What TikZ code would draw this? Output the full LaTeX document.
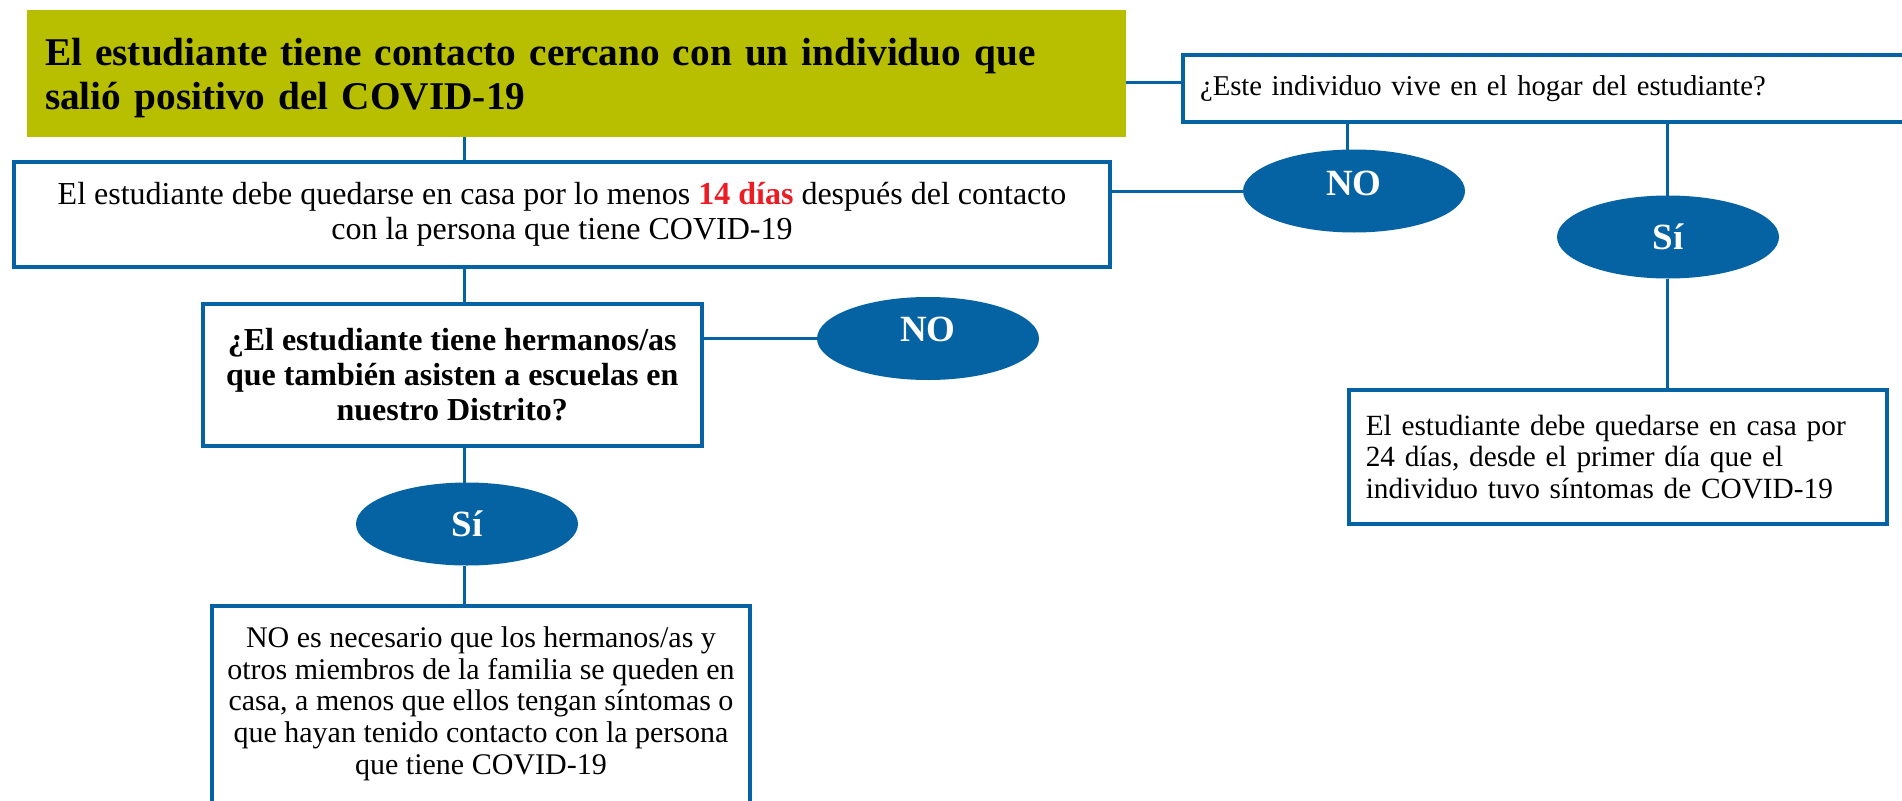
\documentclass[tikz,border=0pt]{standalone}
\usepackage{fontspec}
\setmainfont{Liberation Serif}
\usetikzlibrary{shapes.geometric}
\definecolor{olivegreen}{RGB}{183,191,0}
\definecolor{flowblue}{RGB}{5,99,164}
\definecolor{alertred}{RGB}{235,28,36}
\newcommand\ftgreen{\fontsize{39.3}{44}\selectfont\bfseries}
\newcommand\ftbtwo{\fontsize{32}{35}\selectfont}
\newcommand\ftbthree{\fontsize{28.7}{35}\selectfont}
\newcommand\ftbfour{\fontsize{29.3}{31.5}\selectfont}
\newcommand\ftbfive{\fontsize{32}{35}\selectfont\bfseries}
\newcommand\ftbsix{\fontsize{30}{31.7}\selectfont}
\newcommand\ftoval{\fontsize{37}{40}\selectfont\bfseries}
\tikzset{
  every node/.style={inner sep=0pt, outer sep=0pt},
  framebox/.style={draw=flowblue, line width=4pt, fill=white},
  oval/.style={ellipse, fill=flowblue, text=white, minimum width=222pt, minimum height=83pt, inner sep=0pt, font=\ftoval},
  link/.style={draw=flowblue, line width=3pt},
}
\begin{document}
\begin{tikzpicture}[x=1pt,y=1pt]
\useasboundingbox (0,0) rectangle (1902,-800);
\clip (0,0) rectangle (1902,-800);
\fill[white] (0,0) rectangle (1902,-800);
\coordinate (colx) at (464,0);
\coordinate (rowa) at (0,-82);
\coordinate (cola) at (1347,0);
\coordinate (colb) at (1667,0);

% nodes
\node[fill=olivegreen, minimum width=1099pt, minimum height=127pt] (green) at (576.5,-73.5) {};
\node[text width=1063pt, align=left, font=\ftgreen] (gtext) at (576.5,-78)
  {El estudiante tiene contacto cercano con un individuo que\\salió positivo del COVID-19};

\node[framebox, minimum width=1096pt, minimum height=105pt, align=center, font=\ftbtwo] (b2) at (562,-214.5)
  {El estudiante debe quedarse en casa por lo menos \textcolor{alertred}{\textbf{14 días}} después del contacto\\con la persona que tiene COVID-19};

\node[framebox, minimum width=777pt, minimum height=67.4pt, text width=743pt, align=left, font=\ftbthree] (b3) at (1571.5,-88.3)
  {¿Este individuo vive en el hogar del estudiante?};

\node[framebox, minimum width=538.5pt, minimum height=134.5pt, text width=504pt, align=left, font=\ftbfour] (b4) at (1617.75,-456.75)
  {El estudiante debe quedarse en casa por\\24 días, desde el primer día que el\\individuo tuvo síntomas de COVID-19};

\node[framebox, minimum width=499.5pt, minimum height=141.7pt, align=center, font=\ftbfive] (b5) at (452.25,-374.85)
  {¿El estudiante tiene hermanos/as\\que también asisten a escuelas en\\nuestro Distrito?};

\node[framebox, minimum width=538pt, minimum height=300pt, anchor=north] (b6) at (481,-606) {};
\node[align=center, font=\ftbsix, anchor=north] (t6) at (481,-626.5)
  {NO es necesario que los hermanos/as y\\otros miembros de la familia se queden en\\casa, a menos que ellos tengan síntomas o\\que hayan tenido contacto con la persona\\que tiene COVID-19};

\node[oval] (e1) at (1354,-191) {\raisebox{16pt}{NO}};
\node[oval] (e2) at (1668,-237) {Sí};
\node[oval] (e3) at (928,-338.5) {\raisebox{18pt}{NO}};
\node[oval] (e4) at (467,-524) {Sí};

% connectors
\draw[link] (green.south -| colx) -- (b2.north -| colx);
\draw[link] (b2.south -| colx) -- (b5.north -| colx);
\draw[link] (green.east |- rowa) -- (b3.west |- rowa);
\draw[link] (b2.east |- e1.west) -- (e1.west);
\draw[link] (b3.south -| cola) -- (e1.north -| cola);
\draw[link] (b3.south -| colb) -- (e2.north -| colb);
\draw[link] (e2.south -| colb) -- (b4.north -| colb);
\draw[link] (b5.east |- e3.west) -- (e3.west);
\draw[link] (b5.south -| colx) -- (e4.north -| colx);
\draw[link] (e4.south -| colx) -- (b6.north -| colx);
\end{tikzpicture}
\end{document}
